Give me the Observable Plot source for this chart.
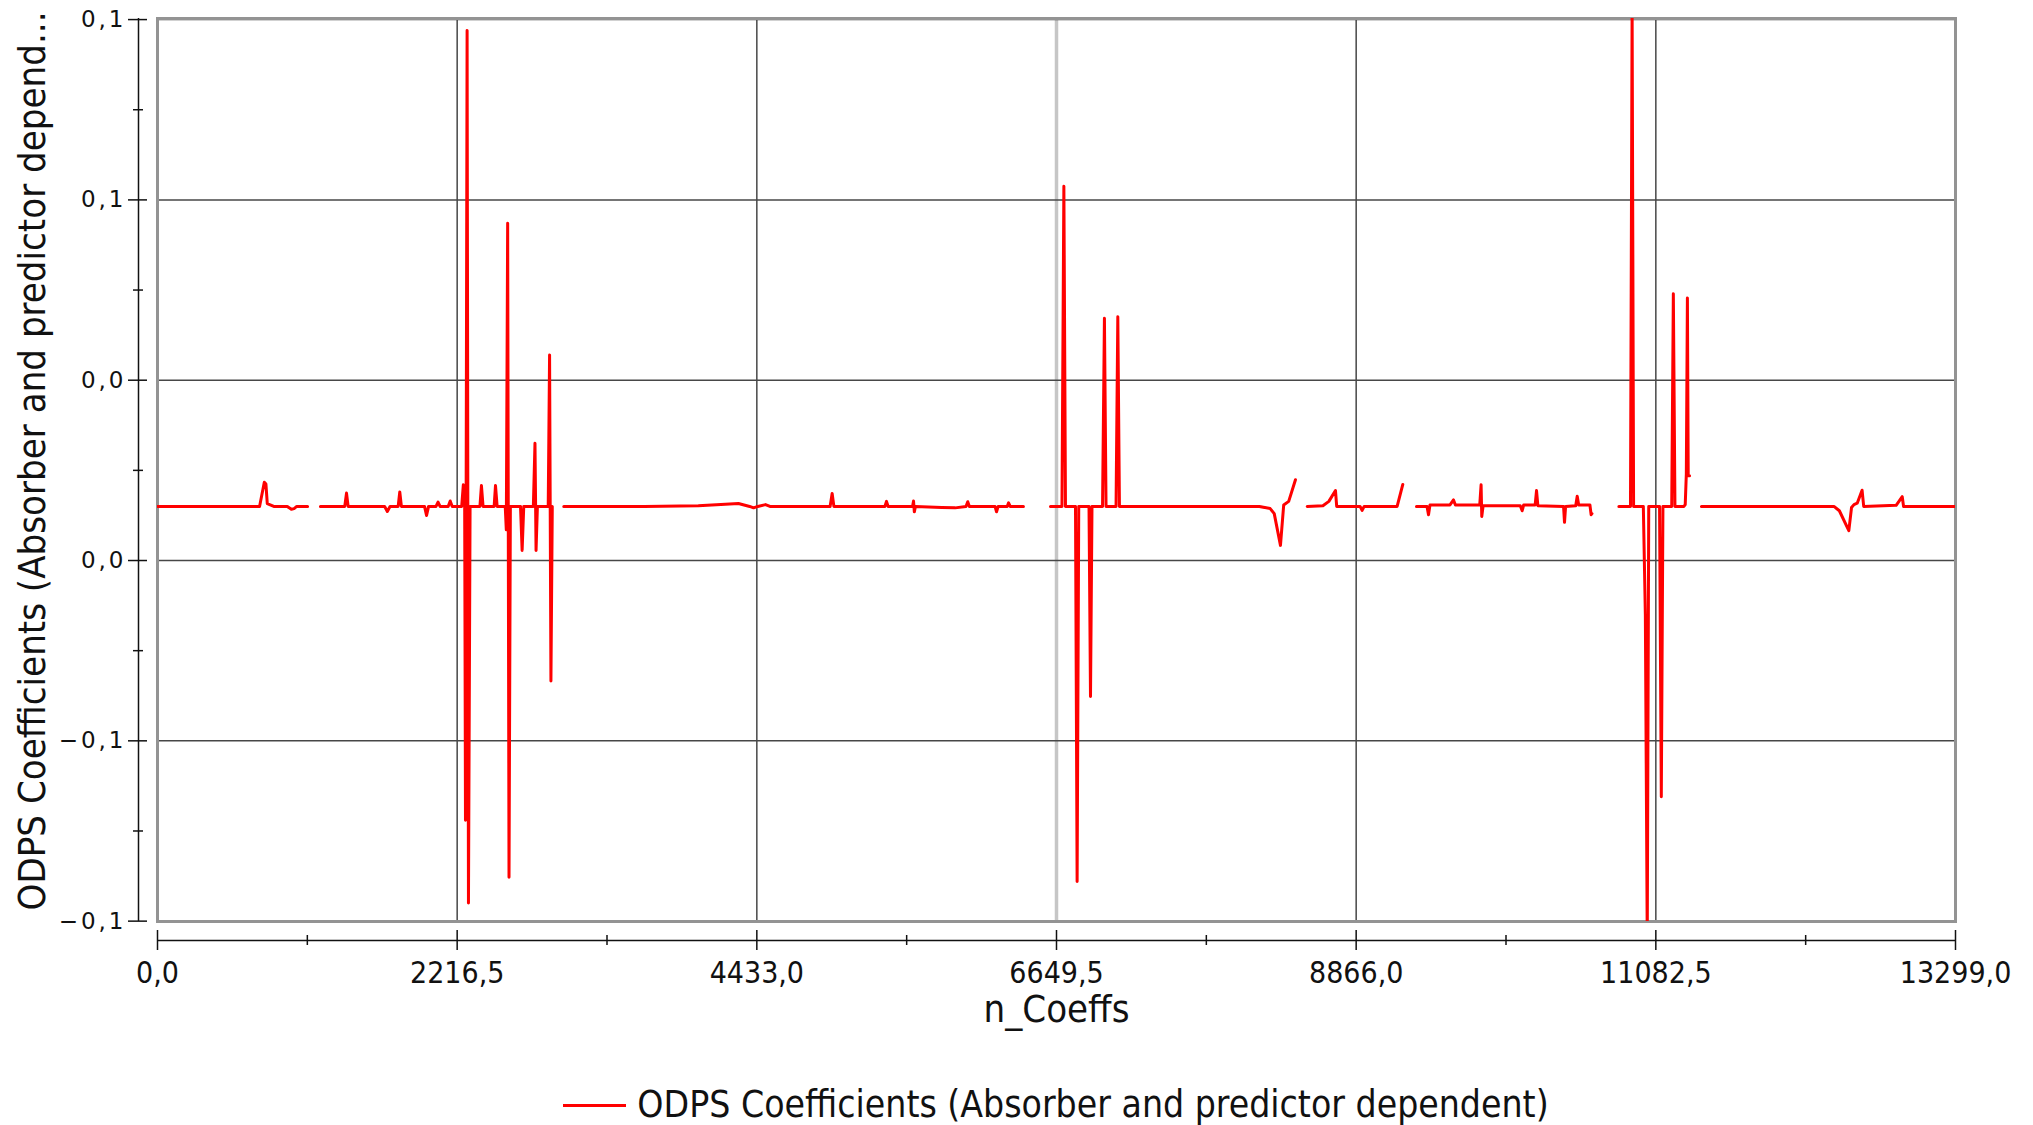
<!DOCTYPE html>
<html>
<head>
<meta charset="utf-8">
<script src="https://cdn.jsdelivr.net/npm/d3@7"></script>
<script src="https://cdn.jsdelivr.net/npm/@observablehq/plot@0.6"></script>
<style>
  html, body { margin: 0; padding: 0; background: #fff; }
  #chart svg { display: block; }
  #chart g[aria-label="y-axis tick label"] text { letter-spacing: 3px; }
  #legend {
    height: 65px;
    box-sizing: border-box;
    padding: 25px 78px 0 157px;
    display: flex;
    justify-content: center;
    align-items: center;
    font-family: "DejaVu Sans Condensed", "Liberation Sans Narrow", "Liberation Sans", sans-serif;
    font-size: 37px;
    color: #111;
    line-height: 40px;
  }
  #legend .swatch { width: 63px; height: 3px; background: #ff0000; margin-right: 11px; }
</style>
</head>
<body>
<div id="chart"></div>
<div id="legend"></div>
<script>
// Coefficient blocks: [n_Coeffs, value]; each block is a contiguous run of the series.
const block1 = [[0,0],[755,0],[790,0.0067],[802,0.0062],[812,0.0008],[860,0],[960,0],[990,-0.0008],[1010,-0.0006],[1030,0],[1110,0]];
const block2 = [[1205,0],[1385,0],[1398,0.0037],[1410,0],[1680,0],[1700,-0.0014],[1720,0],[1780,0],[1792,0.004],[1804,0],
  [1975,0],[1990,-0.0025],[2005,0],[2060,0],[2075,0.0012],[2090,0],[2150,0],[2165,0.0015],[2180,0],[2250,0],[2262,0.006],
  [2272,0.001],[2278,-0.087],[2290,0.132],[2300,-0.110],[2312,0],[2385,0],[2396,0.0058],[2408,0],[2490,0],[2500,0.0058],
  [2512,0],[2572,0],[2580,-0.0065],[2590,0.0785],[2600,-0.1028],[2610,0],[2685,0],[2697,-0.0122],[2709,0],[2780,0],
  [2792,0.0175],[2800,-0.0122],[2810,0],[2890,0],[2900,0.042],[2910,-0.0484],[2920,0]];
const block3 = [[3005,0],[3600,0],[4000,0.0002],[4200,0.0006],[4297,0.0008],[4380,0],[4409,-0.0004],[4440,0],[4497,0.0005],
  [4530,0],[4975,0],[4990,0.0036],[5003,0],[5380,0],[5392,0.0014],[5404,0],[5585,0],[5592,0.0015],[5598,-0.0015],[5606,0],
  [5800,-0.0003],[5900,-0.0004],[5980,0],[5993,0.0013],[6005,0],[6195,0],[6206,-0.0015],[6218,0],[6285,0],[6295,0.001],
  [6307,0],[6405,0]];
const block4 = [[6605,0],[6690,0],[6704,0.0888],[6716,0],[6790,0],[6802,-0.104],[6814,0],[6890,0],[6901,-0.0527],[6912,0],
  [6990,0],[7004,0.0522],[7016,0],[7090,0],[7103,0.0526],[7115,0],[8150,0],[8230,-0.0006],[8260,-0.002],[8306,-0.0108],
  [8330,0.0004],[8367,0.0014],[8417,0.0074]];
const block5 = [[8504,0],[8620,0.0002],[8664,0.0014],[8713,0.0044],[8722,0],[8895,0],[8910,-0.0011],[8925,0],[9169,0],[9211,0.0061]];
const block6 = [[9312,0],[9390,0],[9401,-0.0023],[9412,0.0004],[9560,0.0004],[9586,0.0018],[9600,0.0004],[9780,0.0004],
  [9790,0.006],[9795,-0.0028],[9805,0.0002],[10080,0.0002],[10094,-0.0012],[10105,0.0004],[10190,0.0004],[10200,0.0044],
  [10210,0.0002],[10400,0],[10407,-0.0044],[10415,0],[10490,0.0002],[10501,0.0028],[10512,0.0004],[10595,0.0004],
  [10604,-0.0023],[10610,-0.002]];
const block7 = [[10809,0],[10895,0],[10907,0.138],[10918,0],[10990,0],[11005,-0.03],[11019,-0.12],[11030,0],[11110,0],
  [11123,-0.0805],[11135,0],[11200,0],[11212,0.059],[11224,0],[11290,0],[11300,0.0005],[11308,0.009],[11316,0.0578],
  [11322,0.0085],[11332,0.0085]];
const block8 = [[11420,0],[12400,0],[12440,-0.0012],[12510,-0.0067],[12530,-0.0003],[12548,0.0005],[12572,0.0009],
  [12608,0.0045],[12620,0],[12860,0.0003],[12905,0.0027],[12915,0],[13299,0]];
const blocks = [block1, block2, block3, block4, block5, block6, block7, block8];

const xTicks = [0, 2216.5, 4433, 6649.5, 8866, 11082.5, 13299];
const xMinorTicks = [1108.25, 3324.75, 5541.25, 7757.75, 9974.25, 12190.75];
const yTicks = [-0.115, -0.065, -0.015, 0.035, 0.085, 0.135];
const yMinorTicks = [-0.09, -0.04, 0.01, 0.06, 0.11];
const xDomain = [0, 13299];
const yDomain = [-0.1151, 0.1353];
const highlightedX = 6649.5;

const xLabel = "n_Coeffs";
const yLabel = "ODPS Coefficients (Absorber and predictor depend...";
const seriesName = "ODPS Coefficients (Absorber and predictor dependent)";

const series = blocks.flatMap((b, i) => b.map(([n, v]) => ({n, v, block: i})));

const locale = d3.formatLocale({decimal: ",", thousands: "", grouping: [3], currency: ["", ""]});
const fmt = locale.format(".1f");

const condensed = '"DejaVu Sans Condensed", "Liberation Sans Narrow", "Liberation Sans", sans-serif';
const wide = '"DejaVu Sans", Verdana, sans-serif';

const chart = Plot.plot({
  width: 2033,
  height: 1060,
  marginLeft: 157,
  marginRight: 78,
  marginTop: 18,
  marginBottom: 139,
  style: {background: "#fff", color: "#111", fontFamily: condensed},
  x: {domain: xDomain},
  y: {domain: yDomain},
  marks: [
    Plot.gridX(xTicks, {
      stroke: d => d === highlightedX ? "#c6c6c6" : "#474747",
      strokeWidth: d => d === highlightedX ? 3.5 : 1.5,
      strokeOpacity: 1
    }),
    Plot.gridY(yTicks, {stroke: "#474747", strokeWidth: 1.5, strokeOpacity: 1}),
    Plot.frame({stroke: "#939393", strokeWidth: 3}),
    Plot.line(series, {x: "n", y: "v", z: "block", stroke: "#ff0000", strokeWidth: 3, clip: true}),
    // separate axis lines set off from the frame
    Plot.ruleY([yDomain[0]], {dy: 19, stroke: "#111", strokeWidth: 1.5}),
    Plot.ruleX([xDomain[0]], {dx: -19, stroke: "#111", strokeWidth: 1.5}),
    Plot.axisX(xTicks, {
      anchor: "bottom", tickSize: 20, dy: 9, tickPadding: 11, tickFormat: fmt, label: null,
      strokeWidth: 1.5, fontSize: 30, fontFamily: condensed, fill: "#111"
    }),
    Plot.axisX(xMinorTicks, {
      anchor: "bottom", tickSize: 10, dy: 14, tickFormat: () => "", label: null, strokeWidth: 1.5
    }),
    Plot.axisY(yTicks, {
      anchor: "left", tickSize: 19, dx: -10, tickPadding: 2, tickFormat: fmt, label: null,
      strokeWidth: 1.5, fontSize: 23, fontFamily: wide, fill: "#111"
    }),
    Plot.axisY(yMinorTicks, {
      anchor: "left", tickSize: 10, dx: -14, tickFormat: () => "", label: null, strokeWidth: 1.5
    }),
    Plot.text([xLabel], {
      frameAnchor: "bottom", lineAnchor: "middle", dy: 88, fontSize: 38, fontFamily: condensed, fill: "#111"
    }),
    Plot.text([yLabel], {
      frameAnchor: "left", textAnchor: "middle", lineAnchor: "middle", rotate: -90, dx: -125, dy: -9,
      fontSize: 38, fontFamily: condensed, fill: "#111"
    })
  ]
});
document.getElementById("chart").append(chart);

const legend = document.getElementById("legend");
const sw = document.createElement("span");
sw.className = "swatch";
const lt = document.createElement("span");
lt.textContent = seriesName;
legend.append(sw, lt);
</script>
</body>
</html>
